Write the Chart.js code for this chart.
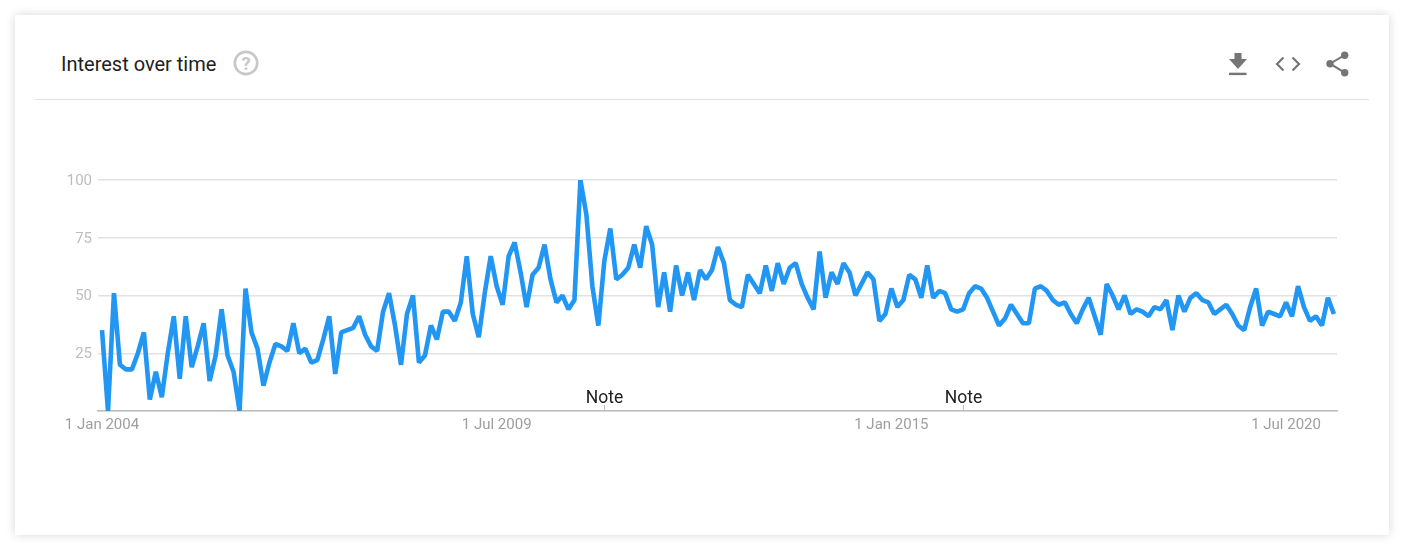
<!DOCTYPE html>
<html><head><meta charset="utf-8">
<script src="https://cdn.jsdelivr.net/npm/chart.js@4"></script>
<style>
html,body{margin:0;padding:0;background:#fff;width:1404px;height:550px;overflow:hidden;font-family:Roboto,sans-serif}
#card{position:absolute;left:15px;top:15px;width:1374px;height:520px;background:#fff;box-shadow:0 0 9px rgba(0,0,0,.16)}
#rule{position:absolute;left:35px;top:99px;width:1334px;height:1px;background:#e0e0e0}
#title{position:absolute;left:61px;top:52px;font-size:20px;line-height:24px;color:#212121}
svg.ic{position:absolute}
canvas{position:absolute;left:0;top:0}
</style></head><body>
<div id="card"></div>
<div id="rule"></div>
<div id="title">Interest over time</div>
<svg class="ic" style="left:233px;top:50px" width="27" height="27" viewBox="0 0 27 27">
<circle cx="13" cy="13" r="11.2" fill="none" stroke="#c8c8c8" stroke-width="2.7"/>
<text x="13" y="19.500" text-anchor="middle" font-family="Roboto" font-size="18.500" font-weight="700" fill="#c8c8c8">?</text></svg>
<svg class="ic" style="left:1226px;top:52px" width="24" height="24" viewBox="0 0 24 24"><path fill="#757575" d="M8.500 1h7v6h5.500L12 17 3 7h5.500z"/><rect x="3" y="20.700" width="17.500" height="2.400" fill="#757575"/></svg>
<svg class="ic" style="left:1274px;top:52px" width="28" height="24" viewBox="0 0 28 24"><path fill="none" stroke="#757575" stroke-width="2.200" d="M9.500 5.500 3 12l6.500 6.500M18.500 5.500 25 12l-6.500 6.500"/></svg>
<svg class="ic" style="left:1325px;top:51px" width="26" height="26" viewBox="0 0 26 26"><g fill="#757575"><circle cx="19.700" cy="4.200" r="3.700"/><circle cx="5" cy="12.700" r="3.700"/><circle cx="19.700" cy="21.700" r="3.700"/></g><path fill="none" stroke="#757575" stroke-width="2" d="M19.700 4.200 5 12.700l14.700 9"/></svg>
<canvas id="c" width="1404" height="550"></canvas>
<script>
const months = [];
for (let y = 2004, m = 0, i = 0; i < 207; i++) {
  months.push(y + "-" + String(m + 1).padStart(2, "0"));
  if (++m === 12) { m = 0; y++; }
}
const interest = [
35,0,51,20,18,18,25,34,5,17,6,25,41,14,41,19,28,38,13,24,44,24,17,0,53,34,27,11,21,29,28,26,38,25,27,21,22,31,41,16,34,35,36,41,33,28,26,
43,51,37,20,42,50,21,24,37,31,43,43,39,47,67,42,32,51,67,54,46,67,73,60,45,59,62,72,57,47,50,44,48,100,85,54,37,65,79,57,59,62,72,62,80,72,45,60,43,63,50,60,
48,61,57,61,71,64,48,46,45,59,55,51,63,52,64,55,62,64,55,49,44,69,49,60,55,64,60,50,55,60,57,39,42,53,45,48,59,57,49,63,49,52,51,44,43,44,51,54,53,49,43,37,
40,46,42,38,38,53,54,52,48,46,47,42,38,44,49,41,33,55,50,44,50,42,44,43,41,45,44,48,35,50,43,49,51,48,47,42,44,46,42,37,35,45,53,37,43,42,41,47,41,54,45,39,41,37,49,42
];
const tickMonths = [0, 66, 132, 198];
const tickLabels = ["1 Jan 2004", "1 Jul 2009", "1 Jan 2015", "1 Jul 2020"];
const yTicks = [0, 25, 50, 75, 100];
const noteMonths = [84, 144];
const noteLabel = "Note";

const notePlugin = {
  id: "notes",
  afterDatasetsDraw(chart) {
    const { ctx, scales: { x }, chartArea } = chart;
    ctx.save();
    noteMonths.forEach(v => {
      const px = Math.round(x.getPixelForValue(v)) + 0.5;
      ctx.strokeStyle = "#bdbdbd";
      ctx.lineWidth = 1;
      ctx.beginPath(); ctx.moveTo(px, chartArea.bottom - 6); ctx.lineTo(px, chartArea.bottom); ctx.stroke();
      ctx.fillStyle = "#212121";
      ctx.font = "17.5px Roboto";
      ctx.textAlign = "center";
      ctx.textBaseline = "alphabetic";
      ctx.fillText(noteLabel, px, chartArea.bottom - 8);
    });
    ctx.restore();
  }
};

new Chart(document.getElementById("c"), {
  type: "line",
  data: { datasets: [{
    label: "Interest",
    data: interest.map((v, i) => ({ x: i, y: v })),
    borderColor: "#2196f3",
    borderWidth: 4.6,
    borderJoinStyle: "bevel",
    borderCapStyle: "butt",
    pointRadius: 0,
    tension: 0,
    clip: 0
  }] },
  options: {
    responsive: false,
    animation: false,
    layout: { padding: { left: 0, right: 67, top: 180, bottom: 0 } },
    plugins: { legend: { display: false }, tooltip: { enabled: false } },
    scales: {
      x: {
        type: "linear", min: -0.67, max: 206.52,
        afterBuildTicks(s) { s.ticks = tickMonths.map(v => ({ value: v })); },
        afterFit(s) { s.height = 139; },
        ticks: {
          autoSkip: false, maxRotation: 0, padding: -3,
          color: "#9e9e9e", font: { family: "Roboto", size: 15 },
          callback: v => tickLabels[tickMonths.indexOf(v)]
        },
        grid: { display: false },
        border: { color: "#bdbdbd", width: 1.5 }
      },
      y: {
        min: 0, max: 100,
        afterBuildTicks(s) { s.ticks = yTicks.map(v => ({ value: v })); },
        afterFit(s) { s.width = 98; },
        ticks: {
          padding: 6, labelOffset: 1,
          color: "#bdbdbd", font: { family: "Roboto", size: 15 },
          callback: v => (v === 0 ? "" : String(v))
        },
        grid: { color: "#e2e2e2", lineWidth: 1.5, drawTicks: false },
        border: { display: false }
      }
    }
  },
  plugins: [notePlugin]
});
</script>
</body></html>
